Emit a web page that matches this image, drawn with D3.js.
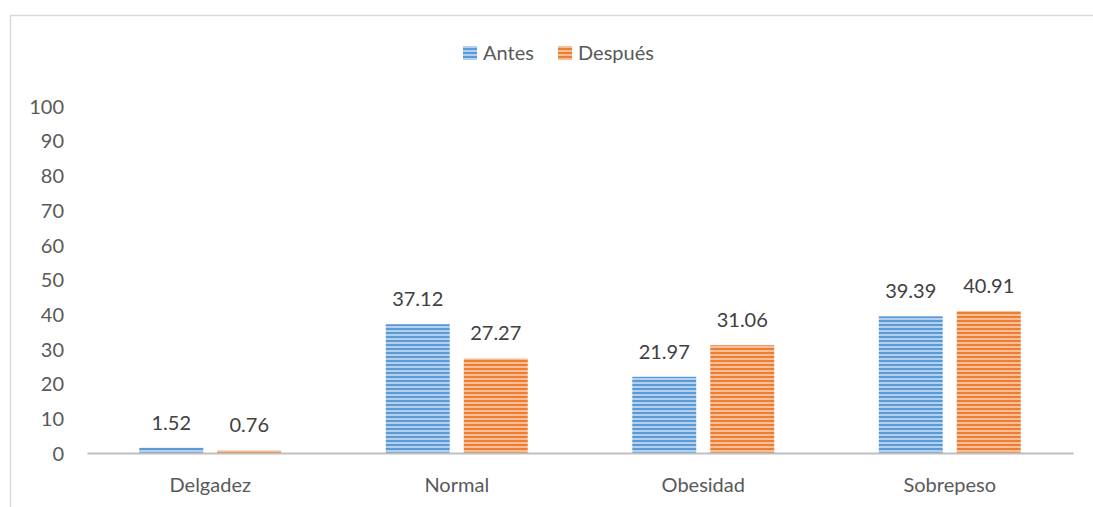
<!DOCTYPE html>
<html><head><meta charset="utf-8">
<script src="https://cdn.jsdelivr.net/npm/d3@7"></script>
<style>body{margin:0;background:#fff}svg{display:block}text{font-family:Lato,"Open Sans",sans-serif;fill:#595959}</style>
</head><body><svg id="c" width="1093" height="507"></svg>
<script>
const categories = ["Delgadez","Normal","Obesidad","Sobrepeso"];
const seriesNames = ["Antes","Después"];
const antes = [1.52,37.12,21.97,39.39];
const despues = [0.76,27.27,31.06,40.91];
const yTicks = [0,10,20,30,40,50,60,70,80,90,100];

const svg = d3.select("#c");
const defs = svg.append("defs");
const pats = [{id:"pb",dark:"#5b9bd5",light:"#b4d0ee"},{id:"po",dark:"#ed7d31",light:"#f7bf98"}];
pats.forEach(p=>{
  const pt = defs.append("pattern").attr("id",p.id).attr("patternUnits","userSpaceOnUse").attr("width",8).attr("height",4);
  pt.append("rect").attr("width",8).attr("height",4).attr("fill",p.light);
  pt.append("rect").attr("width",8).attr("height",2).attr("fill",p.dark);
});

svg.append("rect").attr("x",10.5).attr("y",15.5).attr("width",1100).attr("height",520)
  .attr("fill","none").attr("stroke","#d9d9d9").attr("stroke-width",1.5);

const pLeft=87,pRight=1073,pTop=106,pBottom=453;
const FS = "20px";
const y = d3.scaleLinear().domain([0,100]).range([pBottom,pTop]);
const x0 = d3.scaleBand().domain(categories).range([pLeft,pRight]);
const x1 = d3.scaleBand().domain(seriesNames).range([0,x0.bandwidth()]).paddingInner(0.18).paddingOuter(0.67);

// y axis labels
const ya = svg.append("g").attr("transform",`translate(${pLeft-23},0)`)
  .call(d3.axisLeft(y).tickValues(yTicks).tickSize(0).tickPadding(0));
ya.select(".domain").remove();
ya.selectAll("text").style("font-size",FS).attr("fill","#595959").attr("font-family",null).attr("dy","0.36em");

const data = categories.map((c,i)=>({c, vals:[antes[i],despues[i]]}));
const g = svg.append("g");
data.forEach(d=>{
  d.vals.forEach((v,j)=>{
    const s = seriesNames[j];
    const bx = x0(d.c)+x1(s);
    g.append("rect").attr("x",bx).attr("y",y(v)).attr("width",x1.bandwidth()).attr("height",pBottom-y(v))
      .attr("fill",`url(#${pats[j].id})`);
    g.append("text").attr("x",bx+x1.bandwidth()/2).attr("y",y(v)-18).attr("text-anchor","middle")
      .style("font-size",FS).style("fill","#404040").text(v.toFixed(2));
  });
});

// x axis
const xa = svg.append("g").attr("transform",`translate(0,${pBottom})`)
  .call(d3.axisBottom(x0).tickSize(0).tickPadding(25));
xa.select(".domain").attr("stroke","#bfbfbf").attr("stroke-width",2);
xa.selectAll("text").style("font-size",FS).attr("fill","#595959").attr("font-family",null);

// legend
const leg = svg.append("g");
const legX = [463,558];
seriesNames.forEach((s,j)=>{
  leg.append("rect").attr("x",legX[j]).attr("y",46).attr("width",14).attr("height",14).attr("fill",`url(#${pats[j].id})`);
  leg.append("text").attr("x",legX[j]+20).attr("y",60).style("font-size",FS).text(s);
});
</script></body></html>
